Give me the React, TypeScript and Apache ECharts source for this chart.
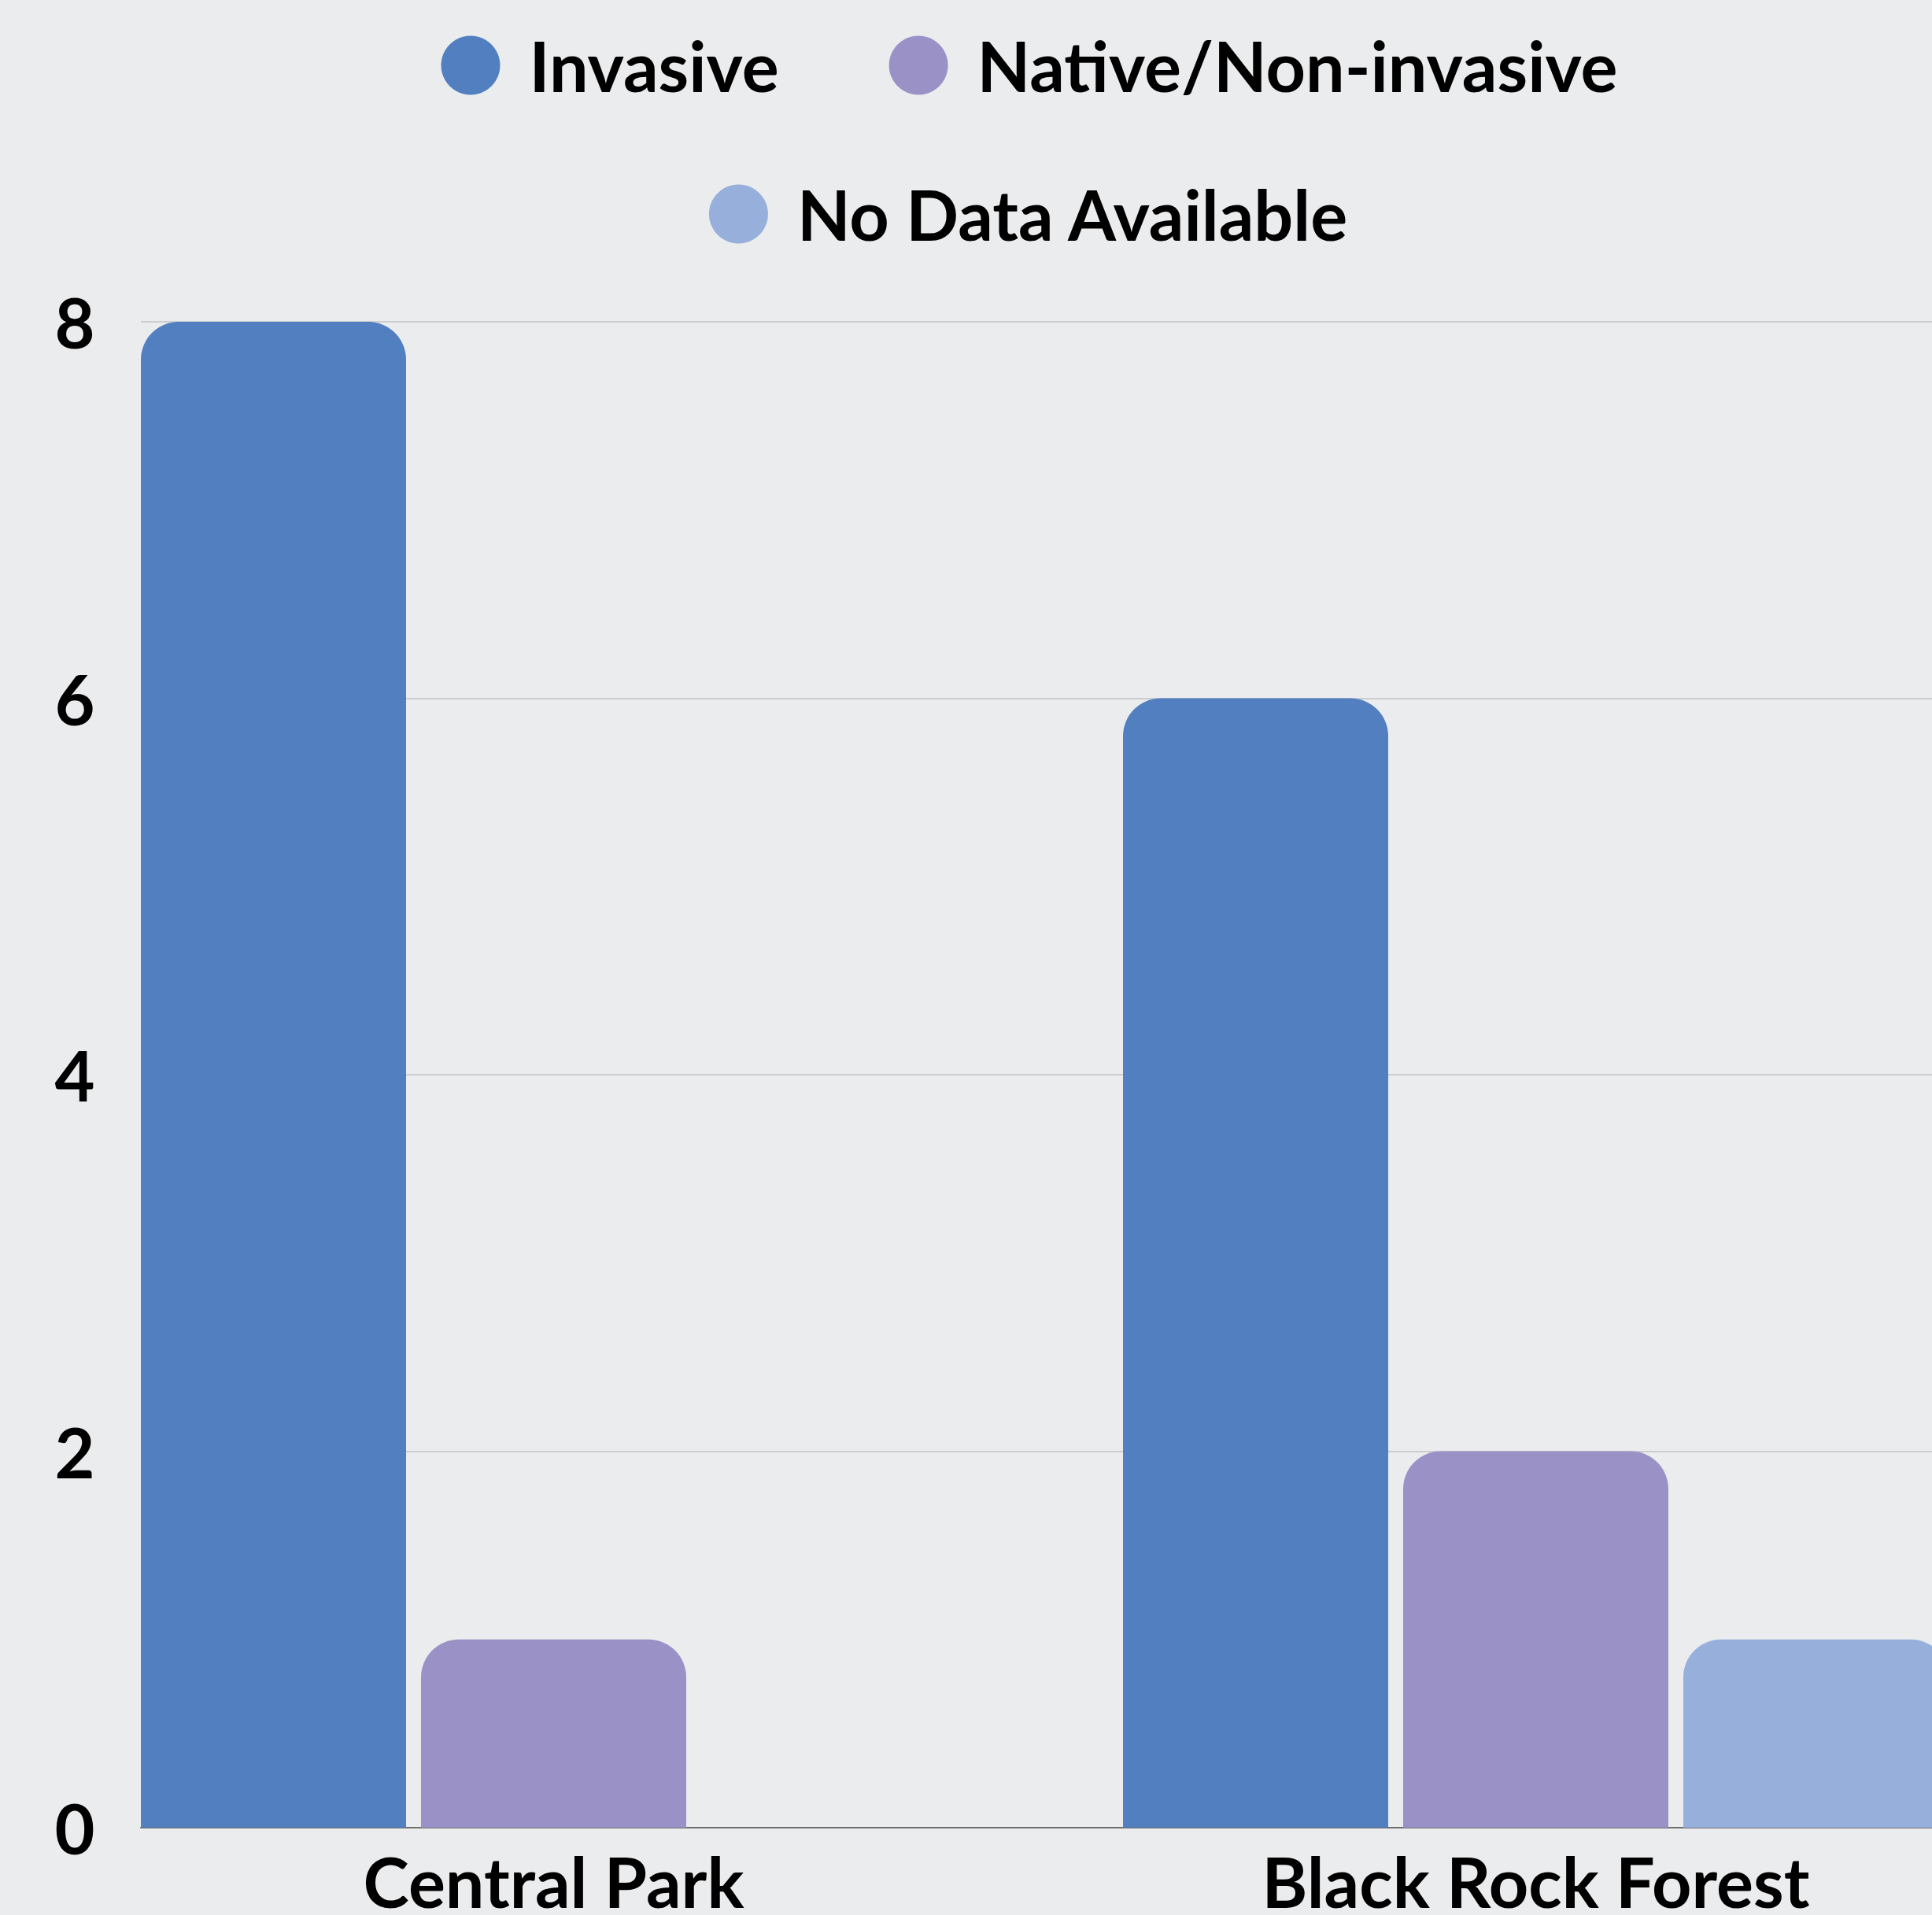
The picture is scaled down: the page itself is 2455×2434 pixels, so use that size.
import React, { useEffect, useRef } from "react";
import * as echarts from "echarts";

const categories = ["Central Park", "Black Rock Forest"];
const seriesNames = ["Invasive", "Native/Non-invasive", "No Data Available"];
const invasive = [8, 6];
const native = [1, 2];
const noData = [0, 1];
const yTicks = [0, 2, 4, 6, 8];

const colors = ["#517fc0", "#9a92c6", "#97afdb"];
const FONT = "Lato";

export default function App() {
  const ref = useRef<HTMLDivElement>(null);
  useEffect(() => {
    document.body.style.margin = "0";
    const chart = echarts.init(ref.current!, null, { renderer: "svg" });
    const textBase = { fontFamily: FONT, fontWeight: "bold" as const, fontSize: 88, color: "#000" };
    const legendCommon = {
      icon: "circle",
      itemWidth: 75,
      itemHeight: 75,
      itemGap: 140,
      padding: 0,
      left: "center",
      textStyle: { ...textBase, lineHeight: 75, padding: [0, 0, 0, 32] },
    };
    chart.setOption({
      animation: false,
      backgroundColor: "#ebecee",
      color: colors,
      legend: [
        { ...legendCommon, top: 39, data: [seriesNames[0], seriesNames[1]] },
        { ...legendCommon, top: 228, data: [seriesNames[2]] },
      ],
      grid: [
        { left: 179, right: 0, top: 409, bottom: 111, outerBoundsMode: "none", containLabel: false },
        { left: 79.5, right: 40.5, top: 409, bottom: 111, outerBoundsMode: "none", containLabel: false },
      ],
      xAxis: [
        {
          gridIndex: 0,
          type: "category",
          data: categories,
          axisLine: { show: true, lineStyle: { color: "#6e6e6e", width: 2 } },
          axisTick: { show: false },
          axisLabel: { show: false },
          splitLine: { show: false },
        },
        {
          gridIndex: 1,
          type: "category",
          data: categories,
          axisLine: { show: false },
          axisTick: { show: false },
          axisLabel: { ...textBase, lineHeight: 88, margin: 24 },
          splitLine: { show: false },
        },
      ],
      yAxis: [
        {
          gridIndex: 0,
          type: "value",
          min: yTicks[0],
          max: yTicks[yTicks.length - 1],
          interval: 2,
          axisLine: { show: false },
          axisTick: { show: false },
          axisLabel: { ...textBase, align: "center", margin: 84 },
          splitLine: { show: true, lineStyle: { color: "#c3c3c5", width: 1.5 } },
        },
        {
          gridIndex: 1,
          type: "value",
          min: yTicks[0],
          max: yTicks[yTicks.length - 1],
          interval: 2,
          show: false,
          splitLine: { show: false },
        },
      ],
      series: [invasive, native, noData].map((d, i) => ({
        name: seriesNames[i],
        type: "bar",
        xAxisIndex: 1,
        yAxisIndex: 1,
        data: d,
        barGap: "5.64%",
        barCategoryGap: "15.95%",
        itemStyle: { color: colors[i], borderRadius: [48, 48, 0, 0] },
        z: 3,
      })),
    });
    return () => chart.dispose();
  }, []);
  return (
    <div
      style={{
        position: "fixed",
        left: 0,
        top: 0,
        width: 2455,
        height: 2434,
        overflow: "hidden",
        background: "#ebecee",
      }}
    >
      <div ref={ref} style={{ width: 2616, height: 2434 }} />
    </div>
  );
}
